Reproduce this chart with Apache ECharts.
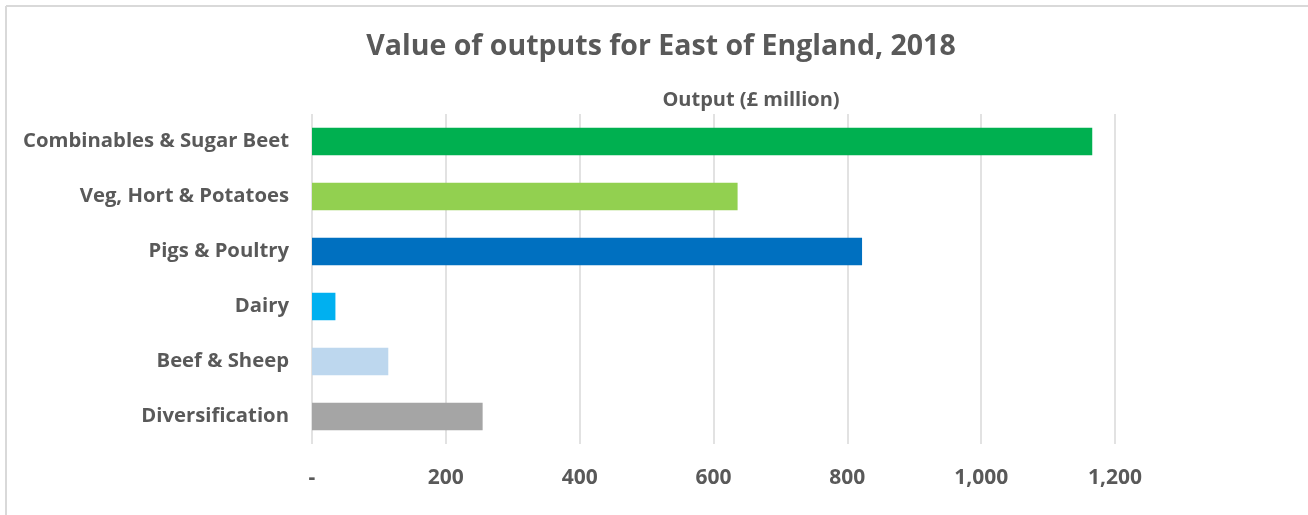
<!DOCTYPE html>
<html>
<head>
<meta charset="utf-8">
<title>Value of outputs for East of England, 2018</title>
<script src="https://cdn.jsdelivr.net/npm/echarts@6/dist/echarts.min.js"></script>
<style>
  html, body { margin: 0; padding: 0; background: #ffffff; }
  #chart { width: 1308px; height: 515px; }
</style>
</head>
<body>
<div id="chart"></div>
<script>
// Farm output by sector, East of England, 2018 (£ million)
const categories = [
  'Combinables & Sugar Beet',
  'Veg, Hort & Potatoes',
  'Pigs & Poultry',
  'Dairy',
  'Beef & Sheep',
  'Diversification'
];
const outputValues = [1166, 636, 822, 35, 114, 255];
const barColors = ['#00B050', '#92D050', '#0070C0', '#00B0F0', '#BDD7EE', '#A5A5A5'];
const axisTicks = [0, 200, 400, 600, 800, 1000, 1200];

const FONT = '"Open Sans", Lato, sans-serif';
const TEXT = '#595959';

const chart = echarts.init(document.getElementById('chart'), null, { renderer: 'canvas' });

chart.setOption({
  backgroundColor: '#ffffff',
  animation: false,
  title: [
    {
      text: 'Value of outputs for East of England, 2018',
      left: 656, top: 27, textAlign: 'center',
      textStyle: { fontFamily: FONT, fontSize: 28.5, fontWeight: 'bold', color: TEXT }
    },
    {
      text: 'Output (£ million)',
      left: 746, top: 85, textAlign: 'center',
      textStyle: { fontFamily: FONT, fontSize: 20, fontWeight: 'bold', color: TEXT }
    }
  ],
  graphic: [
    { type: 'line', shape: { x1: 6, y1: 6, x2: 1308, y2: 6 }, style: { stroke: '#d9d9d9', lineWidth: 2 } },
    { type: 'line', shape: { x1: 6, y1: 6, x2: 6, y2: 515 }, style: { stroke: '#d9d9d9', lineWidth: 2 } }
  ],
  grid: { left: 312, top: 114, width: 803, height: 330, containLabel: false },
  xAxis: {
    type: 'value',
    min: axisTicks[0],
    max: axisTicks[axisTicks.length - 1],
    interval: axisTicks[1] - axisTicks[0],
    axisLine: { show: false },
    axisTick: { show: false },
    splitLine: { show: true, lineStyle: { color: '#d9d9d9', width: 1.5 } },
    axisLabel: {
      margin: 24,
      fontFamily: FONT, fontSize: 21, fontWeight: 'bold', color: TEXT,
      formatter: v => v === 0 ? '-' : v.toLocaleString('en-GB')
    }
  },
  yAxis: {
    type: 'category',
    data: categories,
    inverse: true,
    axisLine: { show: false },
    axisTick: { show: false },
    splitLine: { show: false },
    axisLabel: {
      margin: 23,
      fontFamily: FONT, fontSize: 20.3, fontWeight: 'bold', color: TEXT
    }
  },
  series: [{
    type: 'bar',
    data: outputValues.map((v, i) => ({ value: v, itemStyle: { color: barColors[i] } })),
    barWidth: '50%'
  }]
});
</script>
</body>
</html>
